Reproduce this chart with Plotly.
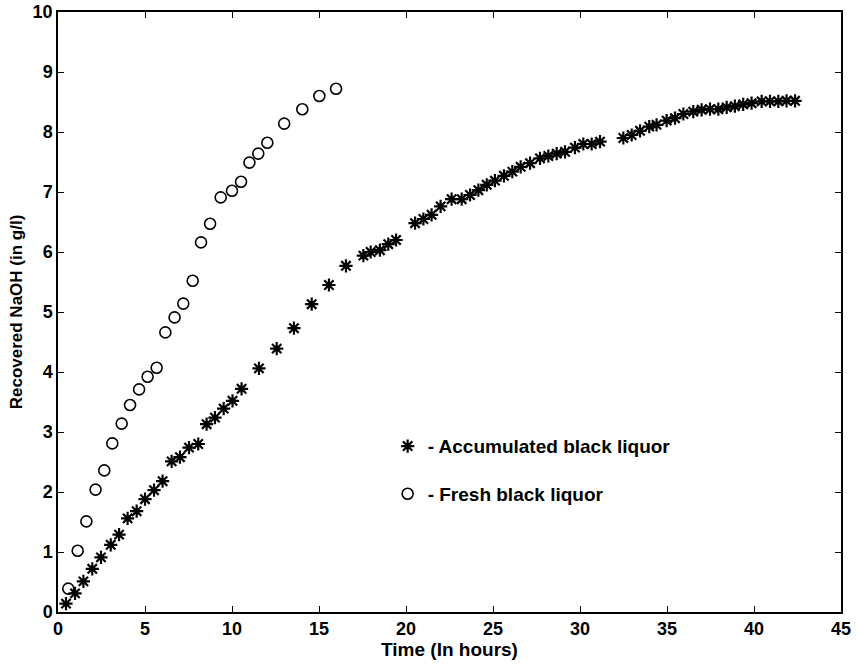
import plotly.graph_objects as go

# Accumulated black liquor (asterisks)
acc_t = [0.46, 0.98, 1.46, 1.97, 2.47, 3.03, 3.51, 4.0, 4.52, 5.0, 5.52, 6.01, 6.53, 7.01,
         7.53, 8.06, 8.54, 9.02, 9.52, 10.03, 10.55, 11.55, 12.57, 13.56, 14.58, 15.57,
         16.55, 17.55, 17.97, 18.5, 18.98, 19.43, 20.52, 21.0, 21.47, 21.99, 22.62, 23.2,
         23.68, 24.16, 24.64, 25.11, 25.63, 26.11, 26.59, 27.13, 27.7, 28.18, 28.66, 29.14,
         29.71, 30.19, 30.67, 31.15, 32.49, 32.97, 33.45, 33.98, 34.4, 34.98, 35.46, 35.94,
         36.51, 36.99, 37.47, 37.95, 38.43, 38.9, 39.38, 39.86, 40.44, 40.92, 41.4, 41.87, 42.36]
acc_y = [0.14, 0.31, 0.51, 0.72, 0.91, 1.12, 1.29, 1.56, 1.68, 1.88, 2.03, 2.18, 2.51, 2.58,
         2.74, 2.80, 3.13, 3.24, 3.39, 3.52, 3.72, 4.06, 4.39, 4.73, 5.13, 5.45,
         5.77, 5.94, 6.0, 6.03, 6.13, 6.2, 6.48, 6.55, 6.62, 6.76, 6.88, 6.88,
         6.95, 7.03, 7.12, 7.19, 7.27, 7.34, 7.42, 7.48, 7.56, 7.6, 7.64, 7.67,
         7.74, 7.8, 7.8, 7.84, 7.9, 7.95, 8.02, 8.09, 8.12, 8.19, 8.23, 8.3,
         8.34, 8.37, 8.38, 8.38, 8.41, 8.43, 8.46, 8.48, 8.51, 8.51, 8.51, 8.52, 8.52]

# Fresh black liquor (circles)
fresh_t = [0.59, 1.13, 1.63, 2.16, 2.66, 3.12, 3.66, 4.14, 4.66, 5.15, 5.67, 6.17, 6.70,
           7.20, 7.74, 8.22, 8.74, 9.35, 10.0, 10.52, 11.0, 11.51, 12.03, 13.0, 14.04,
           15.02, 15.98]
fresh_y = [0.39, 1.02, 1.51, 2.04, 2.36, 2.81, 3.14, 3.45, 3.71, 3.92, 4.07, 4.66, 4.91,
           5.14, 5.52, 6.16, 6.47, 6.91, 7.02, 7.17, 7.49, 7.64, 7.82, 8.14, 8.38,
           8.6, 8.72]

x_ticks = [0, 5, 10, 15, 20, 25, 30, 35, 40, 45]
y_ticks = [0, 1, 2, 3, 4, 5, 6, 7, 8, 9, 10]

FONT = "Liberation Sans"

fig = go.Figure()
fig.add_trace(go.Scatter(
    x=acc_t, y=acc_y, mode="markers", name="- Accumulated black liquor",
    legendgroup="acc",
    marker=dict(symbol="asterisk-open", size=11, color="black",
                line=dict(color="black", width=2.2))))
fig.add_trace(go.Scatter(
    x=fresh_t, y=fresh_y, mode="markers", name="- Fresh black liquor",
    legendgroup="fresh",
    marker=dict(symbol="circle-open", size=11, color="black",
                line=dict(color="black", width=1.6))))

axis_common = dict(showgrid=False, zeroline=False, showline=True, linecolor="black",
                   linewidth=1.5, mirror="ticks", ticks="inside", ticklen=6,
                   tickcolor="black", tickwidth=1, automargin=False,
                   tickfont=dict(family=FONT, size=18, color="black", weight="bold"))

fig.update_layout(
    width=857, height=667,
    margin=dict(l=58, r=16, t=12, b=55),
    paper_bgcolor="white", plot_bgcolor="white",
    showlegend=True,
    legend=dict(x=0.421, y=0.308, xanchor="left", yanchor="top",
                bgcolor="rgba(0,0,0,0)", borderwidth=0,
                font=dict(family=FONT, size=19, color="black", weight="bold"),
                itemwidth=30, traceorder="grouped", tracegroupgap=20),
    xaxis=dict(range=[0, 45], tickvals=x_ticks,
               title=dict(text="Time (In hours)", standoff=4,
                          font=dict(family=FONT, size=19, color="black", weight="bold")),
               **axis_common),
    yaxis=dict(range=[0, 10], tickvals=y_ticks,
               title=dict(text="Recovered NaOH (in g/l)", standoff=6,
                          font=dict(family=FONT, size=17, color="black", weight="bold")),
               **axis_common),
)

fig.write_html("out.html")
